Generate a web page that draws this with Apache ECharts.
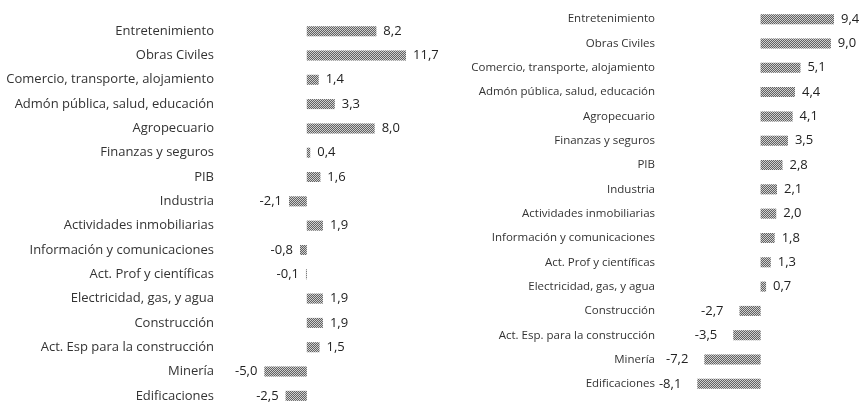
<!DOCTYPE html>
<html>
<head>
<meta charset="utf-8">
<script src="https://cdn.jsdelivr.net/npm/echarts@6/dist/echarts.min.js"></script>
<style>
  html, body { margin: 0; background: #fff; }
  #sector-chart { width: 867px; height: 409px; }
</style>
</head>
<body>
<div id="sector-chart"></div>
<script>
// categorias (de arriba hacia abajo) y variaciones de cada panel
const leftCategories = [
  'Entretenimiento', 'Obras Civiles', 'Comercio, transporte, alojamiento',
  'Admón pública, salud, educación', 'Agropecuario', 'Finanzas y seguros',
  'PIB', 'Industria', 'Actividades inmobiliarias', 'Información y comunicaciones',
  'Act. Prof y científicas', 'Electricidad, gas, y agua', 'Construcción',
  'Act. Esp para la construcción', 'Minería', 'Edificaciones'
]
const leftValues = [8.2, 11.7, 1.4, 3.3, 8.0, 0.4, 1.6, -2.1, 1.9, -0.8, -0.1, 1.9, 1.9, 1.5, -5.0, -2.5]

const rightCategories = [
  'Entretenimiento', 'Obras Civiles', 'Comercio, transporte, alojamiento',
  'Admón pública, salud, educación', 'Agropecuario', 'Finanzas y seguros',
  'PIB', 'Industria', 'Actividades inmobiliarias', 'Información y comunicaciones',
  'Act. Prof y científicas', 'Electricidad, gas, y agua', 'Construcción',
  'Act. Esp. para la construcción', 'Minería', 'Edificaciones'
]
const rightValues = [9.4, 9.0, 5.1, 4.4, 4.1, 3.5, 2.8, 2.1, 2.0, 1.8, 1.3, 0.7, -2.7, -3.5, -7.2, -8.1]

const FONT = "'Open Sans', sans-serif"
const fmt = (v) => v.toFixed(1).replace('.', ',')

// barras con trama gris punteada (como la impresion original)
const barStyle = {
  color: '#cfcfcf',
  decal: {
    symbol: 'rect',
    symbolSize: 1,
    color: 'rgba(70,70,70,0.8)',
    dashArrayX: [[1, 1], [0, 1, 1, 0]],
    dashArrayY: [1, 0],
    rotation: 0
  }
}

const buildData = (values, negDist) =>
  values.map((v) => ({
    value: v,
    label: { position: v < 0 ? 'left' : 'right', distance: v < 0 ? negDist : 7 }
  }))

const categoryAxis = (idx, cats, size) => ({
  type: 'category',
  gridIndex: idx,
  inverse: true,
  data: cats,
  axisLine: { show: false, onZero: false },
  axisTick: { show: false },
  axisLabel: { margin: 8, color: '#333', fontFamily: FONT, fontSize: size }
})

const valueAxis = (idx, min, max) => ({
  type: 'value',
  gridIndex: idx,
  min: min,
  max: max,
  show: false
})

const barSeries = (idx, values, negDist) => ({
  type: 'bar',
  xAxisIndex: idx,
  yAxisIndex: idx,
  barWidth: 10,
  itemStyle: barStyle,
  label: {
    show: true,
    color: '#222',
    fontFamily: FONT,
    fontSize: 13,
    formatter: (p) => fmt(p.value)
  },
  data: buildData(values, negDist)
})

const sectorChartOption = {
  animation: false,
  aria: { enabled: true, decal: { show: true } },
  grid: [
    { left: 222, top: 19, width: 212, bottom: 1 },
    { left: 663, top: 7, width: 203, bottom: 13 }
  ],
  xAxis: [valueAxis(0, -10, 15), valueAxis(1, -12.5, 13.5)],
  yAxis: [categoryAxis(0, leftCategories, 13), categoryAxis(1, rightCategories, 11.5)],
  series: [barSeries(0, leftValues, 7), barSeries(1, rightValues, 16)]
}

const sectorChart = echarts.init(document.getElementById('sector-chart'))
sectorChart.setOption(sectorChartOption)
</script>
</body>
</html>
